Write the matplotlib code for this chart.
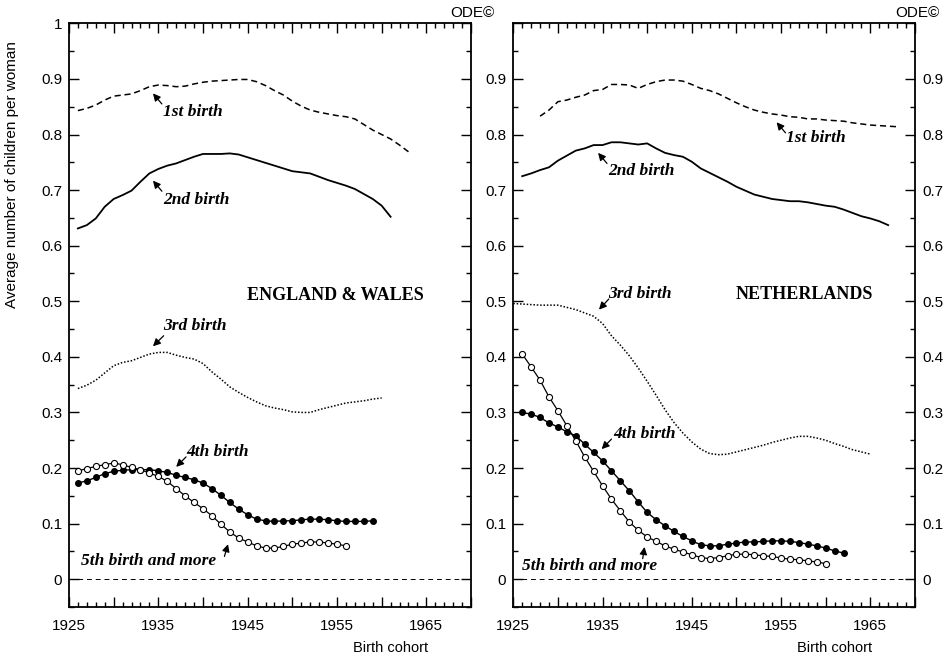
import numpy as np
import matplotlib.pyplot as plt
from matplotlib.ticker import MultipleLocator, FixedLocator, FixedFormatter

# ---- England & Wales ----
ew_first_years = list(range(1926, 1964))
ew_first = [0.843, 0.847, 0.853, 0.862, 0.869, 0.871, 0.873, 0.879, 0.886, 0.889,
            0.888, 0.886, 0.887, 0.891, 0.894, 0.896, 0.897, 0.898, 0.899, 0.899,
            0.895, 0.888, 0.879, 0.871, 0.860, 0.851, 0.844, 0.840, 0.837, 0.834,
            0.832, 0.828, 0.818, 0.808, 0.800, 0.792, 0.781, 0.769]

ew_second_years = list(range(1926, 1962))
ew_second = [0.631, 0.637, 0.649, 0.670, 0.684, 0.691, 0.699, 0.715, 0.730, 0.738,
             0.744, 0.748, 0.754, 0.760, 0.765, 0.765, 0.765, 0.766, 0.764, 0.759,
             0.754, 0.749, 0.744, 0.739, 0.734, 0.732, 0.730, 0.724, 0.718, 0.713,
             0.708, 0.702, 0.693, 0.684, 0.672, 0.652]

ew_third_years = list(range(1926, 1961))
ew_third = [0.343, 0.349, 0.358, 0.371, 0.384, 0.390, 0.393, 0.399, 0.405, 0.408,
            0.408, 0.403, 0.399, 0.396, 0.388, 0.373, 0.360, 0.346, 0.336, 0.327,
            0.319, 0.312, 0.308, 0.305, 0.301, 0.300, 0.300, 0.305, 0.309, 0.313,
            0.317, 0.319, 0.321, 0.324, 0.326]

ew_fourth_years = list(range(1926, 1960))
ew_fourth = [0.173, 0.177, 0.183, 0.190, 0.194, 0.196, 0.197, 0.197, 0.197, 0.195,
             0.192, 0.187, 0.183, 0.179, 0.173, 0.163, 0.151, 0.138, 0.126, 0.116,
             0.108, 0.105, 0.104, 0.105, 0.105, 0.107, 0.108, 0.108, 0.107, 0.105,
             0.104, 0.104, 0.104, 0.105]

ew_fifth_years = list(range(1926, 1957))
ew_fifth = [0.195, 0.199, 0.203, 0.206, 0.209, 0.206, 0.201, 0.197, 0.191, 0.185,
            0.176, 0.163, 0.150, 0.138, 0.127, 0.114, 0.099, 0.085, 0.074, 0.067,
            0.060, 0.056, 0.056, 0.059, 0.063, 0.065, 0.067, 0.067, 0.065, 0.063,
            0.060]

# ---- Netherlands ----
nl_first_years = list(range(1928, 1969))
nl_first = [0.833, 0.844, 0.859, 0.862, 0.867, 0.871, 0.879, 0.881, 0.890, 0.890,
            0.889, 0.883, 0.890, 0.895, 0.898, 0.898, 0.896, 0.890, 0.883, 0.879,
            0.873, 0.865, 0.857, 0.850, 0.844, 0.840, 0.837, 0.835, 0.832, 0.831,
            0.828, 0.828, 0.826, 0.825, 0.824, 0.821, 0.819, 0.817, 0.816, 0.815,
            0.814]

nl_second_years = list(range(1926, 1968))
nl_second = [0.725, 0.730, 0.736, 0.741, 0.753, 0.762, 0.771, 0.775, 0.781, 0.781,
             0.786, 0.786, 0.784, 0.782, 0.784, 0.775, 0.767, 0.763, 0.760, 0.751,
             0.739, 0.731, 0.723, 0.715, 0.706, 0.699, 0.692, 0.688, 0.684, 0.682,
             0.680, 0.680, 0.678, 0.675, 0.672, 0.670, 0.665, 0.659, 0.653, 0.649,
             0.644, 0.637]

nl_third_years = list(range(1925, 1966))
nl_third = [0.496, 0.495, 0.494, 0.493, 0.493, 0.493, 0.489, 0.485, 0.479, 0.473,
            0.460, 0.438, 0.421, 0.402, 0.380, 0.356, 0.331, 0.305, 0.282, 0.263,
            0.247, 0.234, 0.226, 0.224, 0.225, 0.229, 0.233, 0.237, 0.241, 0.246,
            0.250, 0.254, 0.257, 0.257, 0.254, 0.250, 0.244, 0.239, 0.233, 0.229,
            0.225]

nl_fourth_years = list(range(1926, 1963))
nl_fourth = [0.300, 0.297, 0.291, 0.281, 0.274, 0.265, 0.258, 0.243, 0.228, 0.213,
             0.195, 0.177, 0.159, 0.139, 0.120, 0.107, 0.096, 0.086, 0.077, 0.069,
             0.062, 0.060, 0.060, 0.063, 0.065, 0.067, 0.067, 0.068, 0.069, 0.069,
             0.068, 0.066, 0.063, 0.060, 0.056, 0.051, 0.047]

nl_fifth_years = list(range(1926, 1961))
nl_fifth = [0.405, 0.382, 0.358, 0.328, 0.303, 0.276, 0.249, 0.220, 0.194, 0.168,
            0.144, 0.123, 0.103, 0.088, 0.076, 0.068, 0.060, 0.054, 0.049, 0.044,
            0.039, 0.037, 0.039, 0.042, 0.045, 0.045, 0.044, 0.042, 0.041, 0.038,
            0.036, 0.035, 0.033, 0.031, 0.028]

x_ticks = [1925, 1935, 1945, 1955, 1965]
y_ticks = [0, 0.1, 0.2, 0.3, 0.4, 0.5, 0.6, 0.7, 0.8, 0.9, 1.0]
y_labels = ['0', '0.1', '0.2', '0.3', '0.4', '0.5', '0.6', '0.7', '0.8', '0.9', '1']

sans = 'Liberation Sans'
serif = 'Liberation Serif'

fig = plt.figure(figsize=(9.5, 6.61), dpi=100)
ax1 = fig.add_axes([0.0726, 0.0817, 0.4232, 0.883])
ax2 = fig.add_axes([0.5403, 0.0817, 0.4228, 0.883])


def draw_panel(ax, first, second, third, fourth, fifth):
    ax.plot(*first, color='k', lw=1.1, linestyle=(0, (4, 2.5)))
    ax.plot(*second, color='k', lw=1.3)
    ax.plot(*third, color='k', lw=1.1, linestyle=(0, (1, 1.2)))
    ax.plot(*fourth, color='k', lw=1.0, marker='o', ms=4.0,
            markerfacecolor='k', markeredgecolor='k')
    ax.plot(*fifth, color='k', lw=0.9, marker='o', ms=4.4,
            markerfacecolor='white', markeredgecolor='k', markeredgewidth=0.8)
    ax.axhline(0, color='k', lw=0.7, linestyle=(0, (5, 4)))

    ax.set_xlim(1925, 1970)
    ax.set_ylim(-0.05, 1.0)
    ax.xaxis.set_major_locator(MultipleLocator(5))
    ax.xaxis.set_minor_locator(MultipleLocator(1))
    ax.xaxis.set_major_formatter(
        plt.FuncFormatter(lambda v, p: str(int(v)) if int(v) in x_ticks else ''))
    ax.yaxis.set_major_locator(FixedLocator(y_ticks))
    ax.yaxis.set_minor_locator(MultipleLocator(0.05))
    ax.tick_params(which='both', direction='in', top=True, right=True,
                   width=1.0, labelsize=11)
    ax.tick_params(which='major', length=7)
    ax.tick_params(which='minor', length=3.5)
    ax.tick_params(axis='x', pad=9)
    ax.tick_params(axis='y', pad=5)
    for lab in ax.get_xticklabels() + ax.get_yticklabels():
        lab.set_family(sans)
    for sp in ax.spines.values():
        sp.set_linewidth(1.3)
    ax.set_xlabel('Birth cohort', family=sans, fontsize=10.5, ha='right')
    ax.xaxis.set_label_coords(0.893, -0.058)


def note(ax, text, txy, head, tail):
    ax.text(txy[0], txy[1], text, family=serif, fontsize=12.5, fontweight='bold',
            fontstyle='italic', ha='left', va='center')
    ax.annotate('', xy=head, xytext=tail,
                arrowprops=dict(arrowstyle='-|>', color='k', lw=0.9,
                                mutation_scale=11, shrinkA=0, shrinkB=0))


draw_panel(ax1, (ew_first_years, ew_first), (ew_second_years, ew_second),
           (ew_third_years, ew_third), (ew_fourth_years, ew_fourth),
           (ew_fifth_years, ew_fifth))
draw_panel(ax2, (nl_first_years, nl_first), (nl_second_years, nl_second),
           (nl_third_years, nl_third), (nl_fourth_years, nl_fourth),
           (nl_fifth_years, nl_fifth))

# y labels: left panel on the left, right panel on both sides, no "1" on the right panel
ax1.yaxis.set_major_formatter(FixedFormatter(y_labels))
ax2.yaxis.set_major_formatter(FixedFormatter(y_labels[:-1] + ['']))
ax2.tick_params(axis='y', labelright=True)
for t in ax2.yaxis.get_major_ticks():
    t.label1.set_family(sans)
    t.label2.set_family(sans)

# annotations, England & Wales
note(ax1, '1st birth', (1935.5, 0.840), (1934.4, 0.874), (1935.4, 0.855))
note(ax1, '2nd birth', (1935.5, 0.682), (1934.4, 0.717), (1935.4, 0.698))
note(ax1, '3rd birth', (1935.5, 0.455), (1934.4, 0.419), (1935.6, 0.438))
note(ax1, '4th birth', (1938.1, 0.229), (1937.0, 0.202), (1938.1, 0.220))
note(ax1, '5th birth and more', (1926.3, 0.033), (1942.8, 0.063), (1942.4, 0.041))
ax1.text(1954.8, 0.511, 'ENGLAND & WALES', family=serif, fontsize=13,
         fontweight='bold', ha='center', va='center')

# annotations, Netherlands
note(ax2, '1st birth', (1955.6, 0.794), (1954.5, 0.822), (1955.5, 0.803))
note(ax2, '2nd birth', (1935.6, 0.734), (1934.5, 0.767), (1935.5, 0.748))
note(ax2, '3rd birth', (1935.6, 0.513), (1934.6, 0.485), (1935.7, 0.504))
note(ax2, '4th birth', (1936.2, 0.261), (1934.9, 0.234), (1936.0, 0.252))
note(ax2, '5th birth and more', (1926.0, 0.024), (1939.7, 0.058), (1939.5, 0.037))
ax2.text(1957.6, 0.513, 'NETHERLANDS', family=serif, fontsize=13,
         fontweight='bold', ha='center', va='center')

fig.text(495 / 950, 1 - 13 / 661, 'ODE©', family=sans, fontsize=11,
         ha='right', va='center')
fig.text(940 / 950, 1 - 13 / 661, 'ODE©', family=sans, fontsize=11,
         ha='right', va='center')
fig.text(12 / 950, 1 - 175 / 661, 'Average number of children per woman',
         family=sans, fontsize=11, rotation=90, ha='center', va='center')

fig.savefig('out.png', dpi=100)
